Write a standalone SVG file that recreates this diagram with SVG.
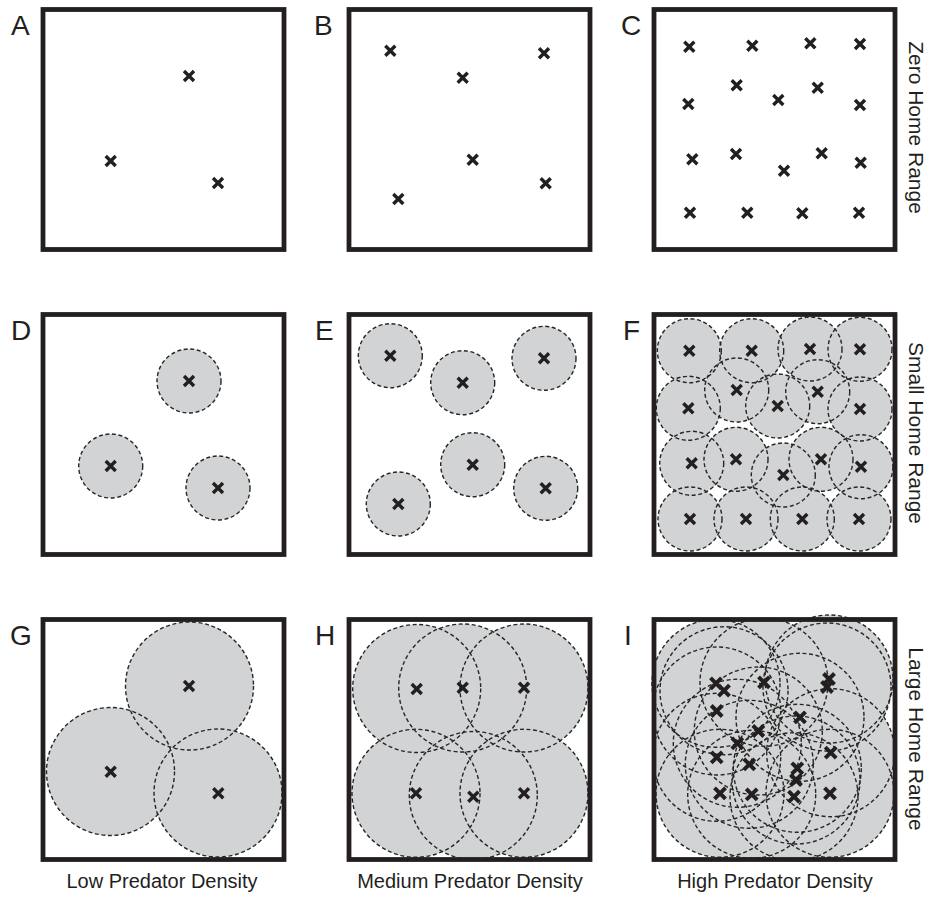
<svg xmlns="http://www.w3.org/2000/svg" xmlns:xlink="http://www.w3.org/1999/xlink" width="939" height="901" viewBox="0 0 939 901">
<style>
.box{fill:none;stroke:#231f20;stroke-width:4.8}
.hf{fill:#d1d3d4;stroke:none}
.hs{fill:none;stroke:#262626;stroke-width:1.4;stroke-dasharray:4 2.6}
.x{fill:none;stroke:#231f20;stroke-width:3.4}
.xb{fill:none;stroke:#231f20;stroke-width:4}
.lbl{font-family:"Liberation Sans",Arial,sans-serif;font-size:28px;fill:#231f20}
.cap{font-family:"Liberation Sans",Arial,sans-serif;font-size:20px;fill:#231f20;text-anchor:middle}
.side{font-family:"Liberation Sans",Arial,sans-serif;font-size:21px;fill:#231f20;text-anchor:middle}
</style>
<defs>
<path id="x" d="M-5,-5L5,5M-5,5L5,-5"/>
<path id="xl" d="M-5.5,-5.5L5.5,5.5M-5.5,5.5L5.5,-5.5"/>
</defs>
<rect width="939" height="901" fill="#ffffff"/>

<g id="panelA">
<rect class="box" x="43" y="9.5" width="241" height="240"/>
<g class="x"><use xlink:href="#x" x="189" y="76"/><use xlink:href="#x" x="110.7" y="161"/><use xlink:href="#x" x="218" y="183"/></g>
<text class="lbl" x="11" y="35">A</text>
</g>

<g id="panelB">
<rect class="box" x="349" y="9.5" width="241" height="240"/>
<g class="x"><use xlink:href="#x" x="390.3" y="50.7"/><use xlink:href="#x" x="544" y="53.3"/><use xlink:href="#x" x="462.7" y="77.7"/><use xlink:href="#x" x="472.7" y="159.7"/><use xlink:href="#x" x="545.7" y="183.3"/><use xlink:href="#x" x="398.3" y="199"/></g>
<text class="lbl" x="314" y="35">B</text>
</g>

<g id="panelC">
<rect class="box" x="654" y="9.5" width="241" height="240"/>
<g class="x">
<use xlink:href="#x" x="689.3" y="46.7"/><use xlink:href="#x" x="752.3" y="45.7"/><use xlink:href="#x" x="810.3" y="43.3"/><use xlink:href="#x" x="860" y="44"/>
<use xlink:href="#x" x="736.7" y="85.3"/><use xlink:href="#x" x="688.3" y="104"/><use xlink:href="#x" x="778.3" y="100"/><use xlink:href="#x" x="817.7" y="87.7"/><use xlink:href="#x" x="860" y="105"/>
<use xlink:href="#x" x="692.3" y="159.3"/><use xlink:href="#x" x="736" y="154"/><use xlink:href="#x" x="821.7" y="153.3"/><use xlink:href="#x" x="784" y="170.7"/><use xlink:href="#x" x="860.7" y="162.7"/>
<use xlink:href="#x" x="690" y="212.7"/><use xlink:href="#x" x="747.3" y="212.7"/><use xlink:href="#x" x="802.3" y="213.3"/><use xlink:href="#x" x="859" y="212.7"/>
</g>
<text class="lbl" x="621" y="35">C</text>
</g>

<g id="panelD">
<rect class="box" x="43" y="314.5" width="241" height="240"/>
<g class="hf"><circle cx="189" cy="381" r="32"/><circle cx="110.7" cy="466" r="32"/><circle cx="218" cy="488" r="32"/></g>
<g class="hs"><circle cx="189" cy="381" r="32"/><circle cx="110.7" cy="466" r="32"/><circle cx="218" cy="488" r="32"/></g>
<g class="x"><use xlink:href="#x" x="189" y="381"/><use xlink:href="#x" x="110.7" y="466"/><use xlink:href="#x" x="218" y="488"/></g>
<text class="lbl" x="11" y="340">D</text>
</g>

<g id="panelE">
<rect class="box" x="349" y="314.5" width="241" height="240"/>
<g class="hf"><circle cx="390.3" cy="355.7" r="32"/><circle cx="544" cy="358.3" r="32"/><circle cx="462.7" cy="382.7" r="32"/><circle cx="472.7" cy="464.7" r="32"/><circle cx="545.7" cy="488.3" r="32"/><circle cx="398.3" cy="504" r="32"/></g>
<g class="hs"><circle cx="390.3" cy="355.7" r="32"/><circle cx="544" cy="358.3" r="32"/><circle cx="462.7" cy="382.7" r="32"/><circle cx="472.7" cy="464.7" r="32"/><circle cx="545.7" cy="488.3" r="32"/><circle cx="398.3" cy="504" r="32"/></g>
<g class="x"><use xlink:href="#x" x="390.3" y="355.7"/><use xlink:href="#x" x="544" y="358.3"/><use xlink:href="#x" x="462.7" y="382.7"/><use xlink:href="#x" x="472.7" y="464.7"/><use xlink:href="#x" x="545.7" y="488.3"/><use xlink:href="#x" x="398.3" y="504"/></g>
<text class="lbl" x="315" y="340">E</text>
</g>

<g id="panelF">
<g class="hf">
<circle cx="689.3" cy="350.7" r="32"/><circle cx="751.7" cy="350.7" r="32"/><circle cx="810" cy="349" r="32"/><circle cx="860" cy="349.3" r="32"/>
<circle cx="688.3" cy="408.3" r="32"/><circle cx="736.7" cy="390" r="32"/><circle cx="777.7" cy="406" r="32"/><circle cx="817.7" cy="391.7" r="32"/><circle cx="860" cy="409" r="32"/>
<circle cx="691.7" cy="463.3" r="32"/><circle cx="736" cy="459.3" r="32"/><circle cx="783.3" cy="475" r="32"/><circle cx="821" cy="459.3" r="32"/><circle cx="861" cy="466.7" r="32"/>
<circle cx="690" cy="519" r="32"/><circle cx="746" cy="519" r="32"/><circle cx="802.3" cy="519" r="32"/><circle cx="859" cy="519" r="32"/>
</g>
<g class="hs">
<circle cx="689.3" cy="350.7" r="32"/><circle cx="751.7" cy="350.7" r="32"/><circle cx="810" cy="349" r="32"/><circle cx="860" cy="349.3" r="32"/>
<circle cx="688.3" cy="408.3" r="32"/><circle cx="736.7" cy="390" r="32"/><circle cx="777.7" cy="406" r="32"/><circle cx="817.7" cy="391.7" r="32"/><circle cx="860" cy="409" r="32"/>
<circle cx="691.7" cy="463.3" r="32"/><circle cx="736" cy="459.3" r="32"/><circle cx="783.3" cy="475" r="32"/><circle cx="821" cy="459.3" r="32"/><circle cx="861" cy="466.7" r="32"/>
<circle cx="690" cy="519" r="32"/><circle cx="746" cy="519" r="32"/><circle cx="802.3" cy="519" r="32"/><circle cx="859" cy="519" r="32"/>
</g>
<rect class="box" x="654" y="314.5" width="241" height="240"/>
<g class="x">
<use xlink:href="#x" x="689.3" y="350.7"/><use xlink:href="#x" x="751.7" y="350.7"/><use xlink:href="#x" x="810" y="349"/><use xlink:href="#x" x="860" y="349.3"/>
<use xlink:href="#x" x="688.3" y="408.3"/><use xlink:href="#x" x="736.7" y="390"/><use xlink:href="#x" x="777.7" y="406"/><use xlink:href="#x" x="817.7" y="391.7"/><use xlink:href="#x" x="860" y="409"/>
<use xlink:href="#x" x="691.7" y="463.3"/><use xlink:href="#x" x="736" y="459.3"/><use xlink:href="#x" x="783.3" y="475"/><use xlink:href="#x" x="821" y="459.3"/><use xlink:href="#x" x="861" y="466.7"/>
<use xlink:href="#x" x="690" y="519"/><use xlink:href="#x" x="746" y="519"/><use xlink:href="#x" x="802.3" y="519"/><use xlink:href="#x" x="859" y="519"/>
</g>
<text class="lbl" x="623" y="340">F</text>
</g>

<g id="panelG">
<g class="hf"><circle cx="189.5" cy="686" r="64"/><circle cx="110.5" cy="771.5" r="64"/><circle cx="218" cy="793" r="64"/></g>
<g class="hs"><circle cx="189.5" cy="686" r="64"/><circle cx="110.5" cy="771.5" r="64"/><circle cx="218" cy="793" r="64"/></g>
<rect class="box" x="43" y="619.5" width="241" height="240"/>
<g class="x"><use xlink:href="#x" x="189" y="686"/><use xlink:href="#x" x="110.7" y="771.7"/><use xlink:href="#x" x="218.3" y="793.3"/></g>
<text class="lbl" x="10" y="645">G</text>
</g>

<g id="panelH">
<g class="hf"><circle cx="416.7" cy="688.5" r="64"/><circle cx="462.7" cy="688" r="64"/><circle cx="524" cy="688" r="64"/><circle cx="416" cy="793.3" r="64"/><circle cx="473.3" cy="795.5" r="64"/><circle cx="524" cy="793.3" r="64"/></g>
<g class="hs"><circle cx="416.7" cy="688.5" r="64"/><circle cx="462.7" cy="688" r="64"/><circle cx="524" cy="688" r="64"/><circle cx="416" cy="793.3" r="64"/><circle cx="473.3" cy="795.5" r="64"/><circle cx="524" cy="793.3" r="64"/></g>
<rect class="box" x="349" y="619.5" width="241" height="240"/>
<g class="x"><use xlink:href="#x" x="416.7" y="689"/><use xlink:href="#x" x="462.7" y="687.7"/><use xlink:href="#x" x="524" y="687.7"/><use xlink:href="#x" x="416" y="793.3"/><use xlink:href="#x" x="473.3" y="796.7"/><use xlink:href="#x" x="524" y="793.3"/></g>
<text class="lbl" x="315" y="645">H</text>
</g>

<g id="panelI">
<g class="hf">
<circle cx="716" cy="683.3" r="64"/><circle cx="724" cy="690.7" r="64"/><circle cx="764" cy="682.3" r="64"/><circle cx="829" cy="679" r="64"/><circle cx="827" cy="687" r="64"/>
<circle cx="716.7" cy="711" r="64"/><circle cx="800" cy="717.3" r="64"/><circle cx="758.3" cy="731" r="64"/><circle cx="737.3" cy="743.3" r="64"/><circle cx="716.7" cy="757.3" r="64"/>
<circle cx="830.7" cy="752.7" r="64"/><circle cx="749.3" cy="764.3" r="64"/><circle cx="797.3" cy="768.3" r="64"/><circle cx="796" cy="780" r="64"/>
<circle cx="720" cy="793.3" r="64"/><circle cx="751.7" cy="794.3" r="64"/><circle cx="794" cy="796.7" r="64"/><circle cx="830" cy="793.3" r="64"/>
</g>
<g class="hs">
<circle cx="716" cy="683.3" r="64"/><circle cx="724" cy="690.7" r="64"/><circle cx="764" cy="682.3" r="64"/><circle cx="829" cy="679" r="64"/><circle cx="827" cy="687" r="64"/>
<circle cx="716.7" cy="711" r="64"/><circle cx="800" cy="717.3" r="64"/><circle cx="758.3" cy="731" r="64"/><circle cx="737.3" cy="743.3" r="64"/><circle cx="716.7" cy="757.3" r="64"/>
<circle cx="830.7" cy="752.7" r="64"/><circle cx="749.3" cy="764.3" r="64"/><circle cx="797.3" cy="768.3" r="64"/><circle cx="796" cy="780" r="64"/>
<circle cx="720" cy="793.3" r="64"/><circle cx="751.7" cy="794.3" r="64"/><circle cx="794" cy="796.7" r="64"/><circle cx="830" cy="793.3" r="64"/>
</g>
<rect class="box" x="654" y="619.5" width="241" height="240"/>
<g class="xb">
<use xlink:href="#xl" x="716" y="683.3"/><use xlink:href="#xl" x="724" y="690.7"/><use xlink:href="#xl" x="764" y="682.3"/><use xlink:href="#xl" x="829" y="679"/><use xlink:href="#xl" x="827" y="687"/>
<use xlink:href="#xl" x="716.7" y="711"/><use xlink:href="#xl" x="800" y="717.3"/><use xlink:href="#xl" x="758.3" y="731"/><use xlink:href="#xl" x="737.3" y="743.3"/><use xlink:href="#xl" x="716.7" y="757.3"/>
<use xlink:href="#xl" x="830.7" y="752.7"/><use xlink:href="#xl" x="749.3" y="764.3"/><use xlink:href="#xl" x="797.3" y="768.3"/><use xlink:href="#xl" x="796" y="780"/>
<use xlink:href="#xl" x="720" y="793.3"/><use xlink:href="#xl" x="751.7" y="794.3"/><use xlink:href="#xl" x="794" y="796.7"/><use xlink:href="#xl" x="830" y="793.3"/>
</g>
<text class="lbl" x="624" y="645">I</text>
</g>

<g id="labels">
<text class="cap" x="162" y="888">Low Predator Density</text>
<text class="cap" x="470" y="888">Medium Predator Density</text>
<text class="cap" x="775" y="888">High Predator Density</text>
<text class="side" transform="translate(909,127.5) rotate(90)">Zero Home Range</text>
<text class="side" transform="translate(909,433) rotate(90)">Small Home Range</text>
<text class="side" transform="translate(909,739) rotate(90)">Large Home Range</text>
</g>
<g id="connectors"/>
</svg>
